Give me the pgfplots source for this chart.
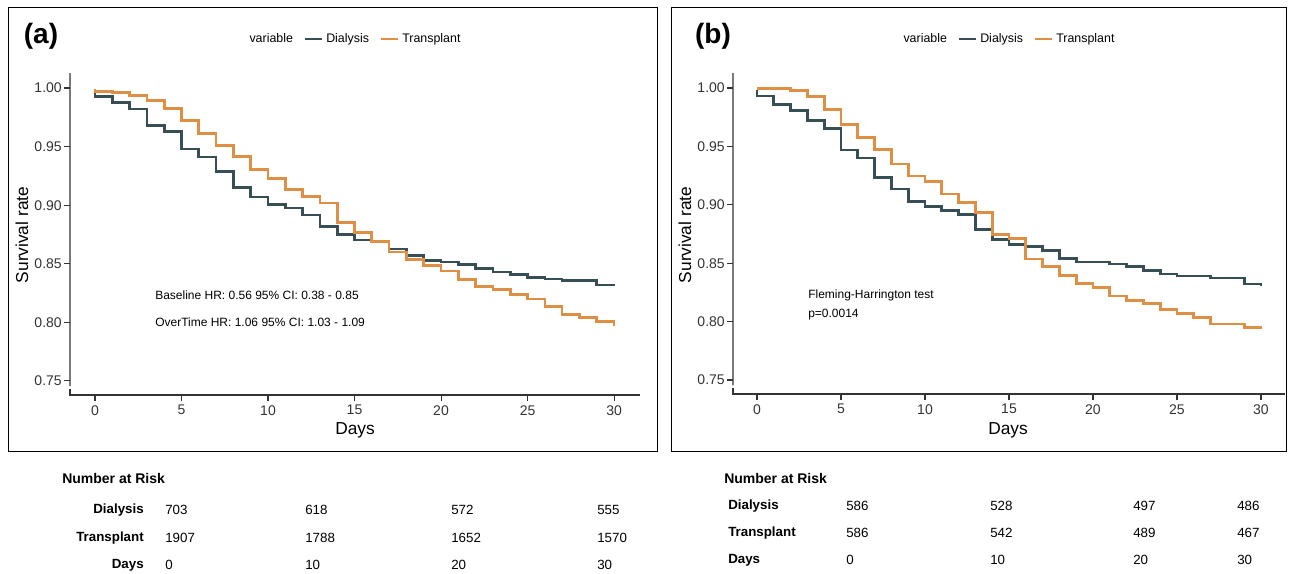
\documentclass[border=0pt]{standalone}
\usepackage{fontspec}
\setmainfont{Liberation Sans}
\usepackage{pgfplots}
\pgfplotsset{compat=1.18}
\definecolor{dial}{HTML}{374E55}
\definecolor{trans}{HTML}{DF8F44}
\definecolor{axgray}{HTML}{333333}

\pgfplotsset{km/.style={
    scale only axis,
    axis x line*=bottom, axis y line*=left,
    axis line style={draw=none},
    xtick={0,5,...,30}, ytick={0.75,0.80,0.85,0.90,0.95,1.00},
    tick align=outside, major tick length=4.5pt,
    tick style={axgray, line width=0.8pt},
    ticklabel style={font=\fontsize{10.5}{12}\selectfont, text=axgray, inner sep=1.5pt},
    xticklabel style={inner sep=3pt},
    /pgf/number format/assume math mode=true,
    yticklabel style={/pgf/number format/.cd, fixed, fixed zerofill, precision=2},
    ymin=0.738, ymax=1.0128,
    clip=false,
    legend columns=-1,
    legend style={draw=none, fill=none, font=\fontsize{9.3}{10}\selectfont,
      at={(0.5,1.106)}, anchor=center,
      /tikz/every even column/.append style={column sep=6pt}},
    legend image code/.code={\draw[##1, line width=2pt] (0pt,0pt) -- (13pt,0pt);},
    every axis plot/.append style={const plot, no marks, line width=2pt},
  }}

\begin{document}
\begin{tikzpicture}[x=0.75pt, y=-0.75pt]
\useasboundingbox (0,0) rectangle (1290,574);
\coordinate (Aa) at (70,395);
\coordinate (Ab) at (733,394);

% panel frames
\draw[line width=0.75pt] (8,8) rectangle (657,451);
\draw[line width=0.75pt] (671,8) rectangle (1286,451);

% ---------------- panel (a)
\begin{axis}[km, at={(Aa)}, anchor=south west,
    width=427.5pt, height=241.5pt, xmin=-1.445, xmax=31.5]
  \addlegendimage{empty legend}
  \addplot[dial] coordinates {
    (0,0.996)(0,0.9926)(1,0.9875)(2,0.982)(3,0.968)(4,0.963)(5,0.948)(6,0.941)
    (7,0.929)(8,0.915)(9,0.907)(10,0.9008)(11,0.8976)(12,0.8916)(13,0.882)
    (14,0.875)(15,0.8703)(16,0.869)(17,0.8626)(18,0.857)(19,0.8527)(20,0.8515)
    (21,0.8496)(22,0.846)(23,0.843)(24,0.8407)(25,0.8385)(26,0.837)(27,0.836)
    (28,0.836)(29,0.832)(30,0.831)};
  \addplot[trans] coordinates {
    (0,0.999)(0,0.997)(1,0.996)(2,0.9938)(3,0.9895)(4,0.9827)(5,0.972)(6,0.9613)
    (7,0.951)(8,0.9417)(9,0.9306)(10,0.923)(11,0.9136)(12,0.9073)(13,0.902)
    (14,0.8854)(15,0.8765)(16,0.869)(17,0.860)(18,0.8538)(19,0.8484)(20,0.8439)
    (21,0.8368)(22,0.8305)(23,0.8282)(24,0.824)(25,0.820)(26,0.8134)(27,0.807)
    (28,0.804)(29,0.8006)(30,0.797)};
  \legend{variable,Dialysis,Transplant}
  \draw[axgray, line width=1.1pt] (axis cs:-1.445,1.0128) -- (axis cs:-1.445,0.7455)
    ++(-3pt,0) -- ++(6pt,0);
  \draw[axgray, line width=1.1pt] (axis cs:-1.445,0.7435) ++(-3pt,0) -- ++(6pt,0);
  \draw[axgray, line width=1.1pt] (axis cs:-1.445,0.7435) -- (axis cs:-1.445,0.738)
    -- (axis cs:31.5,0.738);
\end{axis}

% ---------------- panel (b)
\begin{axis}[km, at={(Ab)}, anchor=south west,
    width=414pt, height=240.75pt, xmin=-1.43, xmax=31.43]
  \addlegendimage{empty legend}
  \addplot[dial] coordinates {
    (0,0.998)(0,0.9932)(1,0.986)(2,0.9806)(3,0.9723)(4,0.9655)(5,0.947)(6,0.940)
    (7,0.9235)(8,0.9135)(9,0.903)(10,0.8984)(11,0.895)(12,0.8919)(13,0.879)
    (14,0.870)(15,0.8662)(16,0.8642)(17,0.8607)(18,0.8542)(19,0.851)(20,0.851)
    (21,0.8493)(22,0.8473)(23,0.8439)(24,0.8408)(25,0.839)(26,0.839)(27,0.8373)
    (28,0.8373)(29,0.8322)(30,0.8305)};
  \addplot[trans] coordinates {
    (0,0.9997)(1,0.9997)(2,0.9977)(3,0.9926)(4,0.9817)(5,0.969)(6,0.9578)
    (7,0.9475)(8,0.935)(9,0.9247)(10,0.9198)(11,0.9092)(12,0.9018)(13,0.8936)
    (14,0.8747)(15,0.8713)(16,0.8536)(17,0.847)(18,0.8396)(19,0.8328)(20,0.8294)
    (21,0.822)(22,0.818)(23,0.8153)(24,0.8105)(25,0.807)(26,0.8037)(27,0.798)
    (28,0.798)(29,0.7948)(30,0.794)};
  \legend{variable,Dialysis,Transplant}
  \draw[axgray, line width=1.1pt] (axis cs:-1.43,1.0128) -- (axis cs:-1.43,0.7455)
    ++(-3pt,0) -- ++(6pt,0);
  \draw[axgray, line width=1.1pt] (axis cs:-1.43,0.7435) ++(-3pt,0) -- ++(6pt,0);
  \draw[axgray, line width=1.1pt] (axis cs:-1.43,0.7435) -- (axis cs:-1.43,0.738)
    -- (axis cs:31.43,0.738);
\end{axis}

% panel letters and axis titles
\node[font=\fontsize{21}{24}\selectfont\bfseries] at (41,36) {(a)};
\node[font=\fontsize{21}{24}\selectfont\bfseries] at (713,36) {(b)};
\node[font=\fontsize{13}{15}\selectfont, rotate=90] at (22,235) {Survival rate};
\node[font=\fontsize{13}{15}\selectfont, rotate=90] at (685,235) {Survival rate};
\node[font=\fontsize{13}{15}\selectfont] at (355,430) {Days};
\node[font=\fontsize{13}{15}\selectfont] at (1008,430) {Days};

% annotations
\begin{scope}[every node/.style={font=\fontsize{9}{11}\selectfont, anchor=west, inner sep=0pt}]
\node at (155,295) {Baseline HR: 0.56 95\% CI: 0.38 - 0.85};
\node at (155,322) {OverTime HR: 1.06 95\% CI: 1.03 - 1.09};
\node at (808,295) {Fleming-Harrington test};
\node at (808,315) {p=0.0014};
\end{scope}

% number at risk, panel (a)
\begin{scope}[every node/.style={font=\fontsize{10}{12}\selectfont, inner sep=0pt}]
\node[anchor=west, font=\fontsize{10.5}{12}\selectfont\bfseries] at (62,478) {Number at Risk};
\node[anchor=east, font=\fontsize{10}{12}\selectfont\bfseries] at (144,510) {Dialysis};
\node[anchor=east, font=\fontsize{10}{12}\selectfont\bfseries] at (144,538) {Transplant};
\node[anchor=east, font=\fontsize{10}{12}\selectfont\bfseries] at (144,565) {Days};
\node[anchor=west] at (165,510) {703};
\node[anchor=west] at (305,510) {618};
\node[anchor=west] at (451,510) {572};
\node[anchor=west] at (597,510) {555};
\node[anchor=west] at (165,538) {1907};
\node[anchor=west] at (305,538) {1788};
\node[anchor=west] at (451,538) {1652};
\node[anchor=west] at (597,538) {1570};
\node[anchor=west] at (165,565) {0};
\node[anchor=west] at (305,565) {10};
\node[anchor=west] at (451,565) {20};
\node[anchor=west] at (597,565) {30};
% panel (b)
\node[anchor=west, font=\fontsize{10.5}{12}\selectfont\bfseries] at (724,478) {Number at Risk};
\node[anchor=west, font=\fontsize{10}{12}\selectfont\bfseries] at (728,506) {Dialysis};
\node[anchor=west, font=\fontsize{10}{12}\selectfont\bfseries] at (728,533) {Transplant};
\node[anchor=west, font=\fontsize{10}{12}\selectfont\bfseries] at (728,560) {Days};
\node[anchor=west] at (846,506) {586};
\node[anchor=west] at (990,506) {528};
\node[anchor=west] at (1133,506) {497};
\node[anchor=west] at (1237,506) {486};
\node[anchor=west] at (846,533) {586};
\node[anchor=west] at (990,533) {542};
\node[anchor=west] at (1133,533) {489};
\node[anchor=west] at (1237,533) {467};
\node[anchor=west] at (846,560) {0};
\node[anchor=west] at (990,560) {10};
\node[anchor=west] at (1133,560) {20};
\node[anchor=west] at (1237,560) {30};
\end{scope}
\end{tikzpicture}
\end{document}
